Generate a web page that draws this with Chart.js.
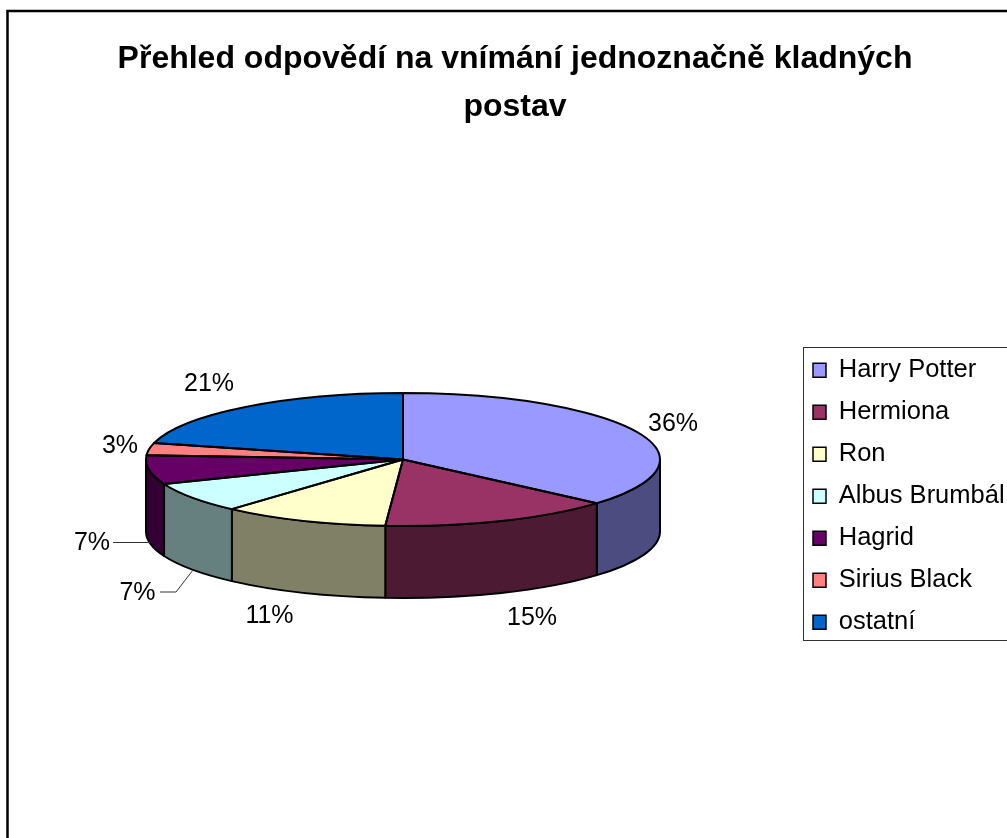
<!DOCTYPE html>
<html>
<head>
<meta charset="utf-8">
<style>
html,body{margin:0;padding:0;background:#fff;overflow:hidden;width:1007px;height:838px}
canvas{position:absolute;left:0;top:0}
</style>
<script src="https://cdn.jsdelivr.net/npm/chart.js@4"></script>
</head>
<body>
<canvas id="c" width="1030" height="838"></canvas>
<script>
const categories = ['Harry Potter','Hermiona','Ron','Albus Brumbál','Hagrid','Sirius Black','ostatní'];
const values = [36.4,14.7,10.5,7.4,7,3,21];
const topColors = ['#9999FF','#993366','#FFFFCC','#CCFFFF','#660066','#FF8080','#0066CC'];
const sideColors = ['#4C4C80','#4D1A33','#808066','#668080','#330033','#804040','#003366'];
const titleLines = ['Přehled odpovědí na vnímání jednoznačně kladných','postav'];

// layout of the flattened pie
const CX = 403, CY = 459.5, RX = 257, RY = 66.5, DEPTH = 72;
const labelPos = [[673,431],[532,625],[269.5,623],[92,550],[137.5,600],[120,453],[209,391]];
const leaders = {3:[[113,542.5],[150,542.5]],4:[[160,592],[176,592],[193,570]]};
const FONT = '"Liberation Sans", Arial, sans-serif';

function arcs(chart){return chart.getDatasetMeta(0).data;}

const pie3d = {
  id:'pie3d',
  beforeDraw(chart){
    const c=chart.ctx;
    c.save();
    c.strokeStyle='#000';c.lineWidth=2.5;
    c.beginPath();c.moveTo(7.5,900);c.lineTo(7.5,11);c.lineTo(1100,11);c.stroke();
    c.strokeStyle='#333';c.lineWidth=1;
    c.strokeRect(803.5,347.5,400,293);
    c.restore();
    const lg=chart.legend;
    const w=lg.width,h=lg.height;
    lg.left=796.5;lg.top=341;lg.right=796.5+w;lg.bottom=341+h;
  },
  beforeDatasetsDraw(chart){
    const c=chart.ctx, els=arcs(chart);
    // side walls
    els.forEach((a,i)=>{
      const p=a.getProps(['startAngle','endAngle'],true);
      const s=Math.max(p.startAngle,0), e=Math.min(p.endAngle,Math.PI);
      if(e<=s) return;
      c.save();
      c.beginPath();
      c.ellipse(CX,CY,RX,RY,0,s,e,false);
      c.ellipse(CX,CY+DEPTH,RX,RY,0,e,s,true);
      c.closePath();
      c.fillStyle=sideColors[i];c.fill();
      c.strokeStyle='#000';c.lineWidth=2;c.lineJoin='round';c.stroke();
      c.restore();
    });
    const g=els[0].getProps(['x','y','outerRadius'],true);
    c.save();
    c.translate(CX,CY);c.scale(RX/g.outerRadius,RY/g.outerRadius);c.translate(-g.x,-g.y);
  },
  afterDatasetsDraw(chart){
    const c=chart.ctx, els=arcs(chart);
    c.restore();
    els.forEach(a=>{
      const p=a.getProps(['startAngle','endAngle'],true);
      c.save();
      c.beginPath();
      c.moveTo(CX,CY);
      c.ellipse(CX,CY,RX,RY,0,p.startAngle,p.endAngle,false);
      c.closePath();
      c.strokeStyle='#000';c.lineWidth=2;c.lineJoin='round';c.stroke();
      c.restore();
    });
    // leaders and labels
    c.save();
    c.strokeStyle='#333';c.lineWidth=1;
    Object.values(leaders).forEach(pts=>{
      c.beginPath();pts.forEach((q,j)=>j?c.lineTo(q[0],q[1]):c.moveTo(q[0],q[1]));c.stroke();
    });
    c.fillStyle='#000';c.font='25px '+FONT;c.textAlign='center';c.textBaseline='alphabetic';
    values.forEach((v,i)=>c.fillText(Math.round(v)+'%',labelPos[i][0],labelPos[i][1]));
    c.restore();
  }
};

new Chart(document.getElementById('c'),{
  type:'pie',
  data:{labels:categories,datasets:[{data:values,backgroundColor:topColors,borderWidth:0}]},
  plugins:[pie3d],
  options:{
    responsive:false,animation:false,
    plugins:{
      tooltip:{enabled:false},
      title:{display:true,text:titleLines,color:'#000',
        font:{family:FONT,size:32,weight:'bold',lineHeight:1.5},
        padding:{top:35,bottom:20}},
      legend:{position:'chartArea',align:'start',
        labels:{color:'#000',font:{family:FONT,size:25.5},boxWidth:13,boxHeight:14,padding:16.5,
          generateLabels(chart){
            return Chart.overrides.pie.plugins.legend.labels.generateLabels(chart).map(it=>Object.assign(it,{strokeStyle:'#000',lineWidth:1.5}));
          }}}
    }
  }
});
</script>
</body>
</html>
